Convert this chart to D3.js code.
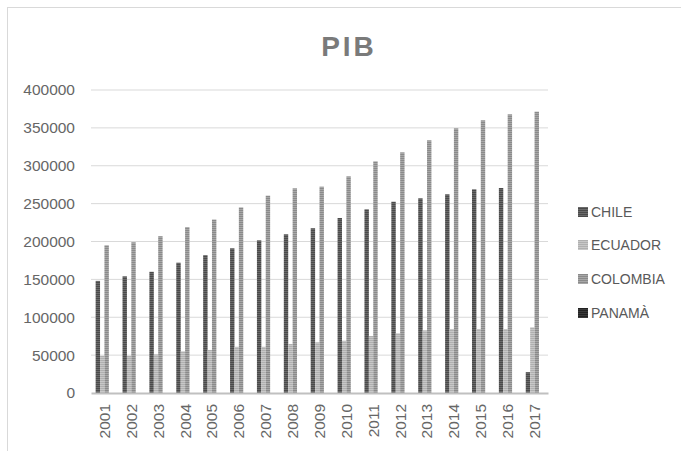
<!DOCTYPE html>
<html><head><meta charset="utf-8">
<script src="https://cdn.jsdelivr.net/npm/d3@7"></script>
<style>body{margin:0;background:#fff}svg{display:block}</style>
</head><body>
<script>
const years = ["2001","2002","2003","2004","2005","2006","2007","2008","2009","2010","2011","2012","2013","2014","2015","2016","2017"];
const seriesNames = ["CHILE","ECUADOR","COLOMBIA","PANAMÀ"];
const chile    = [148000,154000,160000,172000,182000,191000,201500,209500,217500,231000,242500,252500,257000,262300,268900,270600,27500];
const ecuador  = [49000,49000,51000,55000,56800,61000,61000,64700,66900,69000,75200,78800,82700,84500,84500,84500,86700];
const colombia = [195000,199000,207000,219000,229000,245000,260500,270200,272400,286000,305800,317700,333600,349400,360000,367900,371400];
const panama   = [null,null,null,null,null,null,null,null,null,null,null,null,null,null,null,null,null];
const yTicks = [0,50000,100000,150000,200000,250000,300000,350000,400000];

const W = 681, H = 451;
const svg = d3.select("body").append("svg").attr("width", W).attr("height", H);
const defs = svg.append("defs");
const styles = [
  {base:"#6b6b6b", line:"#4a4a4a"},
  {base:"#c8c8c8", line:"#b0b0b0"},
  {base:"#a8a8a8", line:"#8a8a8a"},
  {base:"#3a3a3a", line:"#222222"}
];
styles.forEach((s,i)=>{
  const p = defs.append("pattern").attr("id","pat"+i).attr("patternUnits","userSpaceOnUse")
    .attr("width",4).attr("height",2);
  p.append("rect").attr("width",4).attr("height",2).attr("fill",s.base);
  p.append("rect").attr("width",4).attr("height",1).attr("fill",s.line);
});

svg.append("rect").attr("x",7.5).attr("y",7.5).attr("width",W+20).attr("height",H+20)
  .attr("fill","none").attr("stroke","#d9d9d9");

const x0 = d3.scaleBand().domain(years).range([91,548]).paddingInner(0.345).paddingOuter(0.1725);
const x1 = d3.scaleBand().domain(seriesNames).range([0,x0.bandwidth()]);
const y = d3.scaleLinear().domain([0,400000]).range([393,90]);

// gridlines
svg.append("g").selectAll("line").data(yTicks.filter(d=>d>0)).join("line")
  .attr("x1",91).attr("x2",548).attr("y1",d=>y(d)).attr("y2",d=>y(d))
  .attr("stroke","#d9d9d9").attr("stroke-width",1);

const font = "'Liberation Sans', Arial, sans-serif";
// y axis labels
const yAxis = d3.axisLeft(y).tickValues(yTicks).tickSize(0).tickPadding(16).tickFormat(d3.format("d"));
const gy = svg.append("g").attr("transform","translate(91,0)").call(yAxis);
gy.select(".domain").remove();
gy.selectAll("text").attr("fill","#666").style("font-family",font).style("font-size","15.5px");

const data = [chile, ecuador, colombia, panama];
years.forEach((yr,i)=>{
  const g = svg.append("g").attr("transform",`translate(${x0(yr)},0)`);
  seriesNames.forEach((s,j)=>{
    const v = data[j][i];
    if (v==null) return;
    g.append("rect").attr("x",x1(s)).attr("width",x1.bandwidth())
      .attr("y",y(v)).attr("height",y(0)-y(v)).attr("fill",`url(#pat${j})`);
  });
});

// x axis
const xAxis = d3.axisBottom(x0).tickSize(0).tickPadding(0);
const gx = svg.append("g").attr("transform","translate(0,393)").call(xAxis);
gx.select(".domain").attr("stroke","#c0c0c0").attr("stroke-width",2);
gx.selectAll("text").attr("fill","#666").style("font-family",font).style("font-size","15.5px")
  .attr("transform","rotate(-90)").attr("text-anchor","end").attr("x",-11).attr("y",0).attr("dy","0.35em");

// title
svg.append("text").attr("x",349).attr("y",56).attr("text-anchor","middle")
  .attr("fill","#7a7a7a").style("font-family",font).style("font-size","28px").style("font-weight","bold")
  .style("letter-spacing","3px").text("PIB");

// legend
const leg = svg.append("g");
const legY = [212,245,279,313];
seriesNames.forEach((s,j)=>{
  leg.append("rect").attr("x",578).attr("y",legY[j]-5).attr("width",10).attr("height",10).attr("fill",`url(#pat${j})`);
  leg.append("text").attr("x",591).attr("y",legY[j]).attr("dy","0.35em").attr("fill","#595959")
    .style("font-family",font).style("font-size","14px").text(s);
});
</script>
</body></html>
